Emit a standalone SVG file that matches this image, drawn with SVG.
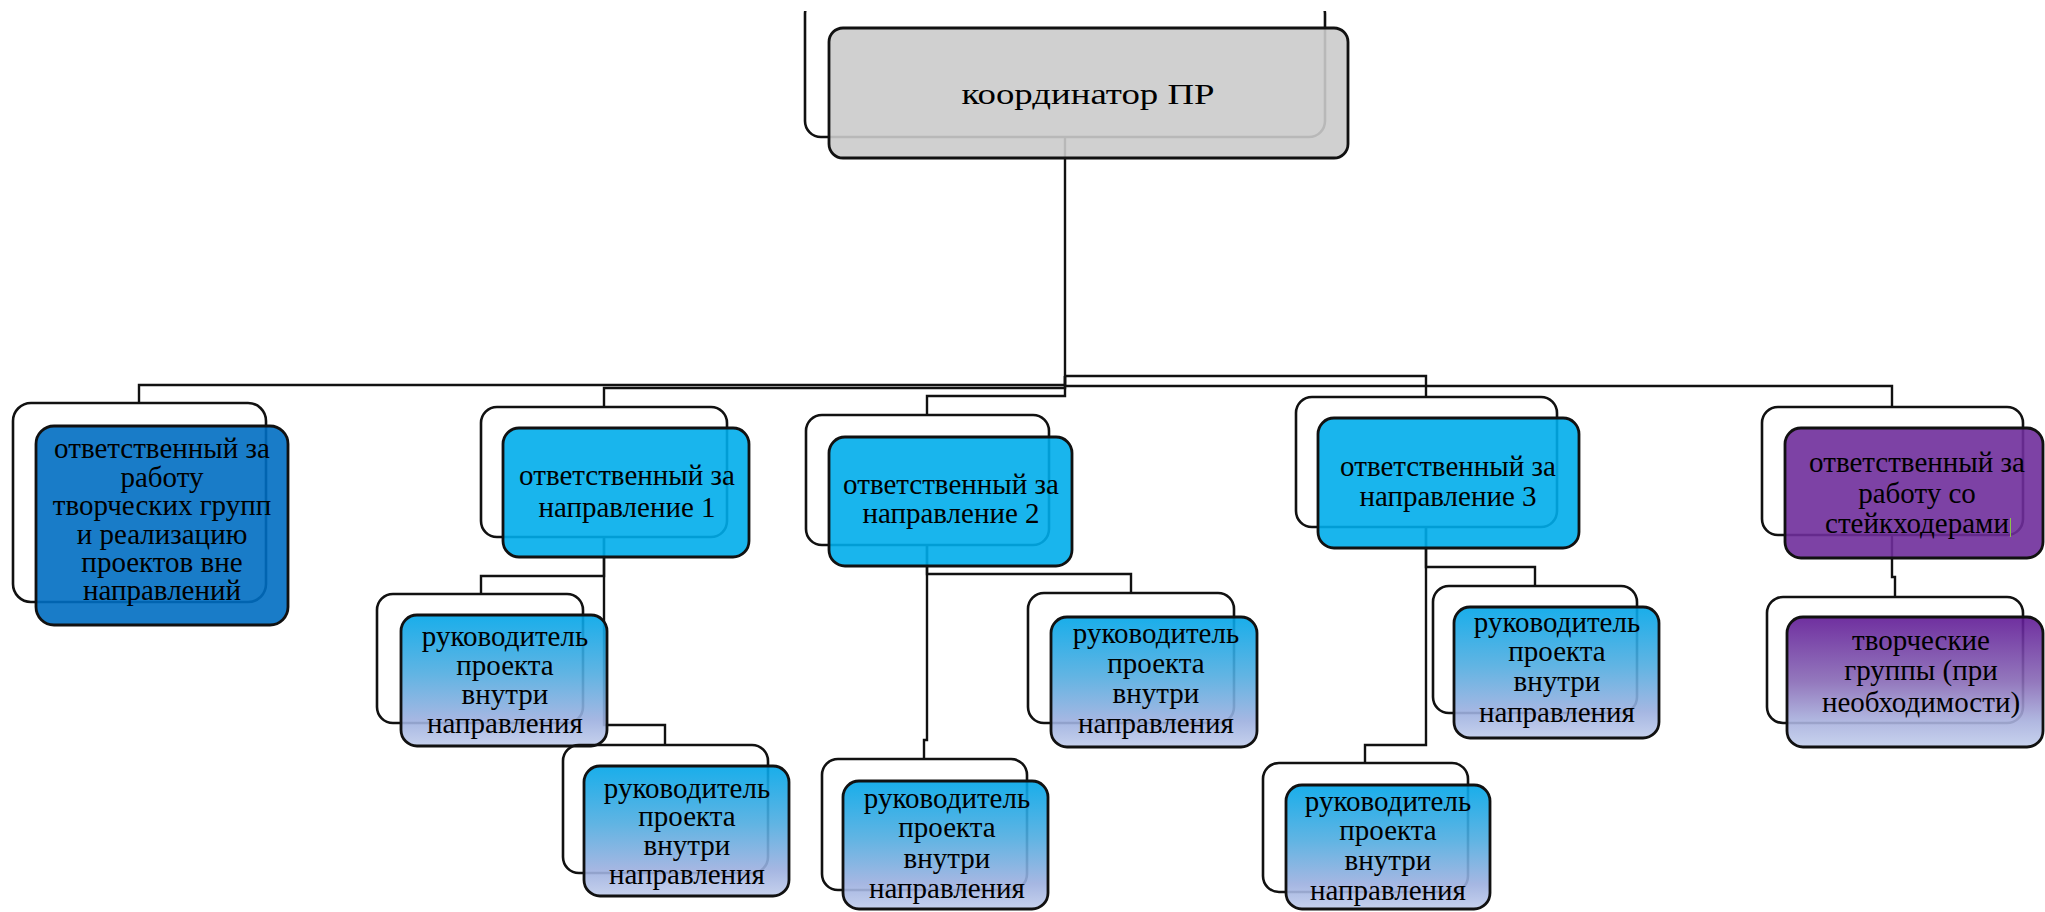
<svg xmlns="http://www.w3.org/2000/svg" width="2045" height="912" viewBox="0 0 2045 912">
<style>
.back{fill:none;stroke:#111;stroke-width:2.6}
.front{stroke:#111;stroke-width:2.8;fill-opacity:0.9}
.con{fill:none;stroke:#111;stroke-width:2.4}
.t{font-family:"Liberation Serif","Times New Roman",serif;font-size:29px;fill:#000;text-anchor:middle}
</style>
<defs>
<linearGradient id="gb" x1="0" y1="0" x2="0" y2="1">
<stop offset="0" stop-color="#00a5e8"/>
<stop offset="0.45" stop-color="#50ace0"/>
<stop offset="0.8" stop-color="#9cafdf"/>
<stop offset="1" stop-color="#c0cceb"/>
</linearGradient>
<linearGradient id="gp" x1="0" y1="0" x2="0" y2="1">
<stop offset="0" stop-color="#601995"/>
<stop offset="0.5" stop-color="#886ab6"/>
<stop offset="0.8" stop-color="#a8b0dd"/>
<stop offset="1" stop-color="#c2ceec"/>
</linearGradient>
<clipPath id="topclip"><rect x="0" y="11" width="2045" height="901"/></clipPath>
</defs>
<rect x="0" y="0" width="2045" height="912" fill="#fff"/>

<g id="connectors">
<path class="con" d="M1065,137 V385 H139 V403"/>
<path class="con" d="M1065,376 V388 H604 V407"/>
<path class="con" d="M1065,376 V396 H927 V415"/>
<path class="con" d="M1065,376 H1426 V397"/>
<path class="con" d="M1065,386 H1892 V407"/>
<path class="con" d="M604,537 V576 H481 V594"/>
<path class="con" d="M604,537 V725 H665 V745"/>
<path class="con" d="M927,545 V740 H924 V759"/>
<path class="con" d="M927,545 V574 H1131 V593"/>
<path class="con" d="M1426,527 V745 H1365 V763"/>
<path class="con" d="M1426,527 V567 H1535 V586"/>
<path class="con" d="M1892,535 V577 H1895 V597"/>
</g>

<g id="coordinator">
<rect class="back" x="805" y="-2" width="520" height="139" rx="16" clip-path="url(#topclip)"/>
<rect class="front" x="829" y="28" width="519" height="130" rx="14" fill="#cbcbcb"/>
<text class="t" x="1088" y="104" font-size="30" textLength="253" lengthAdjust="spacingAndGlyphs">координатор ПР</text>
</g>

<g id="node-a">
<rect class="back" x="13" y="403" width="253" height="199" rx="18"/>
<rect class="front" x="36" y="426" width="252" height="199" rx="18" fill="#006ec2"/>
<text class="t" x="162" y="458">ответственный за</text>
<text class="t" x="162" y="486.5">работу</text>
<text class="t" x="162" y="515">творческих групп</text>
<text class="t" x="162" y="543.5">и реализацию</text>
<text class="t" x="162" y="572">проектов вне</text>
<text class="t" x="162" y="600">направлений</text>
</g>

<g id="node-b">
<rect class="back" x="481" y="407" width="246" height="130" rx="16"/>
<rect class="front" x="503" y="428" width="246" height="129" rx="16" fill="#00adeb"/>
<text class="t" x="627" y="485">ответственный за</text>
<text class="t" x="627" y="517">направление 1</text>
</g>

<g id="node-b1">
<rect class="back" x="377" y="594" width="206" height="129" rx="16"/>
<rect class="front" x="401" y="615" width="206" height="131" rx="16" fill="url(#gb)"/>
<text class="t" x="505" y="646">руководитель</text>
<text class="t" x="505" y="675">проекта</text>
<text class="t" x="505" y="704">внутри</text>
<text class="t" x="505" y="733">направления</text>
</g>

<g id="node-b2">
<rect class="back" x="563" y="745" width="205" height="128" rx="16"/>
<rect class="front" x="584" y="766" width="205" height="130" rx="16" fill="url(#gb)"/>
<text class="t" x="687" y="798">руководитель</text>
<text class="t" x="687" y="826">проекта</text>
<text class="t" x="687" y="855">внутри</text>
<text class="t" x="687" y="884">направления</text>
</g>

<g id="node-c">
<rect class="back" x="806" y="415" width="243" height="130" rx="16"/>
<rect class="front" x="829" y="437" width="243" height="129" rx="16" fill="#00adeb"/>
<text class="t" x="951" y="494">ответственный за</text>
<text class="t" x="951" y="523">направление 2</text>
</g>

<g id="node-c1">
<rect class="back" x="822" y="759" width="205" height="131" rx="16"/>
<rect class="front" x="843" y="781" width="205" height="128" rx="16" fill="url(#gb)"/>
<text class="t" x="947" y="808">руководитель</text>
<text class="t" x="947" y="837">проекта</text>
<text class="t" x="947" y="868">внутри</text>
<text class="t" x="947" y="898">направления</text>
</g>

<g id="node-c2">
<rect class="back" x="1028" y="593" width="206" height="130" rx="16"/>
<rect class="front" x="1051" y="617" width="206" height="130" rx="16" fill="url(#gb)"/>
<text class="t" x="1156" y="643">руководитель</text>
<text class="t" x="1156" y="673">проекта</text>
<text class="t" x="1156" y="703">внутри</text>
<text class="t" x="1156" y="733">направления</text>
</g>

<g id="node-d">
<rect class="back" x="1296" y="397" width="261" height="130" rx="16"/>
<rect class="front" x="1318" y="418" width="261" height="130" rx="16" fill="#00adeb"/>
<text class="t" x="1448" y="476">ответственный за</text>
<text class="t" x="1448" y="506">направление 3</text>
</g>

<g id="node-d1">
<rect class="back" x="1263" y="763" width="205" height="129" rx="16"/>
<rect class="front" x="1286" y="785" width="204" height="124" rx="16" fill="url(#gb)"/>
<text class="t" x="1388" y="811">руководитель</text>
<text class="t" x="1388" y="840">проекта</text>
<text class="t" x="1388" y="870">внутри</text>
<text class="t" x="1388" y="900">направления</text>
</g>

<g id="node-d2">
<rect class="back" x="1433" y="586" width="204" height="127" rx="16"/>
<rect class="front" x="1454" y="607" width="205" height="131" rx="16" fill="url(#gb)"/>
<text class="t" x="1557" y="632">руководитель</text>
<text class="t" x="1557" y="661">проекта</text>
<text class="t" x="1557" y="691">внутри</text>
<text class="t" x="1557" y="722">направления</text>
</g>

<g id="node-e">
<rect class="back" x="1762" y="407" width="261" height="128" rx="16"/>
<rect class="front" x="1785" y="428" width="258" height="130" rx="16" fill="#6f2d9b"/>
<text class="t" x="1917" y="472">ответственный за</text>
<text class="t" x="1917" y="503">работу со</text>
<text class="t" x="1917" y="533">стейкходерами</text>
<line x1="2010.5" y1="518" x2="2010.5" y2="537" stroke="#8bc34a" stroke-width="1"/>
</g>

<g id="node-e1">
<rect class="back" x="1767" y="597" width="256" height="126" rx="16"/>
<rect class="front" x="1787" y="617" width="256" height="130" rx="16" fill="url(#gp)"/>
<text class="t" x="1921" y="650">творческие</text>
<text class="t" x="1921" y="680">группы (при</text>
<text class="t" x="1921" y="712">необходимости)</text>
</g>
</svg>
